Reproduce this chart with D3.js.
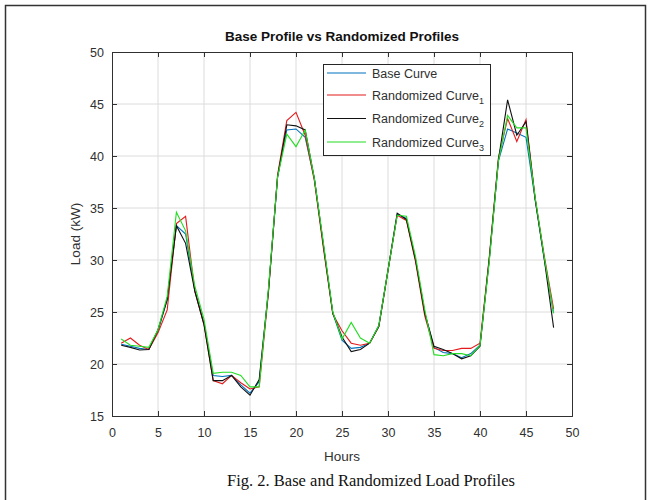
<!DOCTYPE html>
<html><head><meta charset="utf-8">
<script src="https://cdn.jsdelivr.net/npm/d3@7"></script>
<style>body{margin:0;background:#fff}svg{display:block}</style>
</head><body>
<svg id="c" width="652" height="500"></svg>
<script>
const hours = d3.range(1, 49);
const baseCurve = [21.9,21.7,21.5,21.4,23.2,26.2,33.3,32.5,27.1,23.9,18.9,18.8,18.9,18.0,17.2,18.3,27.0,38.0,42.5,42.6,41.8,37.8,31.3,24.9,22.3,21.5,21.6,22.0,23.7,29.0,34.4,34.0,30.0,24.9,21.6,21.1,21.0,20.6,21.0,21.8,30.0,39.5,42.6,42.2,41.8,35.8,30.0,24.9];
const randomized1 = [22.0,22.5,21.8,21.4,23.0,25.2,33.5,34.2,27.0,23.8,18.4,18.1,18.9,18.2,17.6,17.8,26.8,38.2,43.4,44.2,42.0,37.6,31.0,24.8,23.2,22.0,21.8,22.0,23.6,29.0,34.3,33.8,29.8,24.6,21.5,21.3,21.3,21.5,21.5,22.0,30.2,39.8,43.6,41.4,43.5,35.9,30.3,25.3];
const randomized2 = [21.8,21.6,21.35,21.4,23.3,26.2,33.3,31.6,27.0,23.8,18.4,18.4,18.9,17.8,17.0,18.5,27.0,38.0,43.0,42.9,42.5,37.8,31.3,24.9,22.6,21.2,21.4,22.0,23.6,29.0,34.5,33.9,30.0,24.9,21.7,21.4,21.0,20.5,20.8,21.7,30.0,39.6,45.4,42.0,43.3,35.8,30.0,23.5];
const randomized3 = [22.4,21.8,21.7,21.6,23.3,26.5,34.6,32.8,27.5,24.3,19.1,19.2,19.2,18.9,17.8,17.8,27.2,38.0,42.1,40.9,42.5,37.8,31.5,25.0,22.4,24.0,22.5,22.0,23.7,29.0,34.3,34.2,30.3,25.2,20.9,20.8,21.0,21.0,20.8,21.8,29.8,39.5,43.9,42.7,42.7,36.0,30.2,24.9];
const seriesNames = ["Base Curve","Randomized Curve","Randomized Curve","Randomized Curve"];
const seriesSubs = ["","1","2","3"];
const seriesColors = ["#0072BD","#e41a1c","#111111","#22dd22"];
const xTicks = [0,5,10,15,20,25,30,35,40,45,50];
const yTicks = [15,20,25,30,35,40,45,50];
const allSeries = [baseCurve, randomized1, randomized2, randomized3];

const svg = d3.select("#c");
const L = 112, R = 572, T = 52, B = 416;
const x = d3.scaleLinear().domain([0,50]).range([L,R]);
const y = d3.scaleLinear().domain([15,50]).range([B,T]);
const font = "'Liberation Sans', Arial, sans-serif";
const tickCol = "#303030";

// outer frame
svg.append("rect").attr("x",5.5).attr("y",5.5).attr("width",640).attr("height",520)
  .attr("fill","none").attr("stroke","#333").attr("stroke-width",1.5);

// grid
const g = svg.append("g");
g.selectAll(".gx").data(xTicks.slice(1,-1)).join("line")
  .attr("x1",d=>x(d)).attr("x2",d=>x(d)).attr("y1",T).attr("y2",B)
  .attr("stroke","#dcdcdc").attr("stroke-width",1);
g.selectAll(".gy").data(yTicks.slice(1,-1)).join("line")
  .attr("y1",d=>y(d)).attr("y2",d=>y(d)).attr("x1",L).attr("x2",R)
  .attr("stroke","#dcdcdc").attr("stroke-width",1);

// axes
const ax = svg.append("g").attr("transform",`translate(0,${B})`)
  .call(d3.axisBottom(x).tickValues(xTicks).tickSize(-5).tickPadding(12));
const axTop = svg.append("g").attr("transform",`translate(0,${T})`)
  .call(d3.axisTop(x).tickValues(xTicks).tickSize(-5).tickFormat(""));
const ay = svg.append("g").attr("transform",`translate(${L},0)`)
  .call(d3.axisLeft(y).tickValues(yTicks).tickSize(-5).tickPadding(8));
const ayR = svg.append("g").attr("transform",`translate(${R},0)`)
  .call(d3.axisRight(y).tickValues(yTicks).tickSize(-5).tickFormat(""));
[ax,axTop,ay,ayR].forEach(a=>{
  a.selectAll("path").attr("stroke",tickCol).attr("stroke-width",1);
  a.selectAll("line").attr("stroke",tickCol);
  a.selectAll("text").attr("fill",tickCol).style("font-family",font).style("font-size","12.5px");
});

// lines
const line = d3.line().x((d,i)=>x(hours[i])).y(d=>y(d));
svg.append("g").selectAll("path").data(allSeries).join("path")
  .attr("d",line).attr("fill","none")
  .attr("stroke",(d,i)=>seriesColors[i]).attr("stroke-width",1.1);

// title & labels
svg.append("text").attr("x",(L+R)/2).attr("y",41).attr("text-anchor","middle")
  .style("font-family",font).style("font-size","13.5px").style("font-weight","bold")
  .attr("fill","#111").text("Base Profile vs Randomized Profiles");
svg.append("text").attr("x",(L+R)/2).attr("y",461).attr("text-anchor","middle")
  .style("font-family",font).style("font-size","13.5px").attr("fill",tickCol).text("Hours");
svg.append("text").attr("transform",`translate(80,${(T+B)/2}) rotate(-90)`).attr("text-anchor","middle")
  .style("font-family",font).style("font-size","13.5px").attr("fill",tickCol).text("Load (kW)");
svg.append("text").attr("x",371).attr("y",486).attr("text-anchor","middle")
  .style("font-family","'Liberation Serif', 'Times New Roman', serif").style("font-size","16.5px")
  .attr("fill","#111").text("Fig. 2. Base and Randomized Load Profiles");

// legend
const lg = svg.append("g");
lg.append("rect").attr("x",323.5).attr("y",64.5).attr("width",167).attr("height",91)
  .attr("fill","#fff").attr("stroke","#262626").attr("stroke-width",1);
const legY = [73,95,118.5,142];
seriesNames.forEach((n,i)=>{
  lg.append("line").attr("x1",327).attr("x2",366).attr("y1",legY[i]).attr("y2",legY[i])
    .attr("stroke",seriesColors[i]).attr("stroke-width",1.1);
  const t = lg.append("text").attr("x",372).attr("y",legY[i]+4.5)
    .style("font-family",font).style("font-size","12.5px").attr("fill",tickCol);
  t.append("tspan").text(n);
  if (seriesSubs[i]) t.append("tspan").attr("dy",4).style("font-size","9px").text(seriesSubs[i]);
});
</script>
</body></html>
